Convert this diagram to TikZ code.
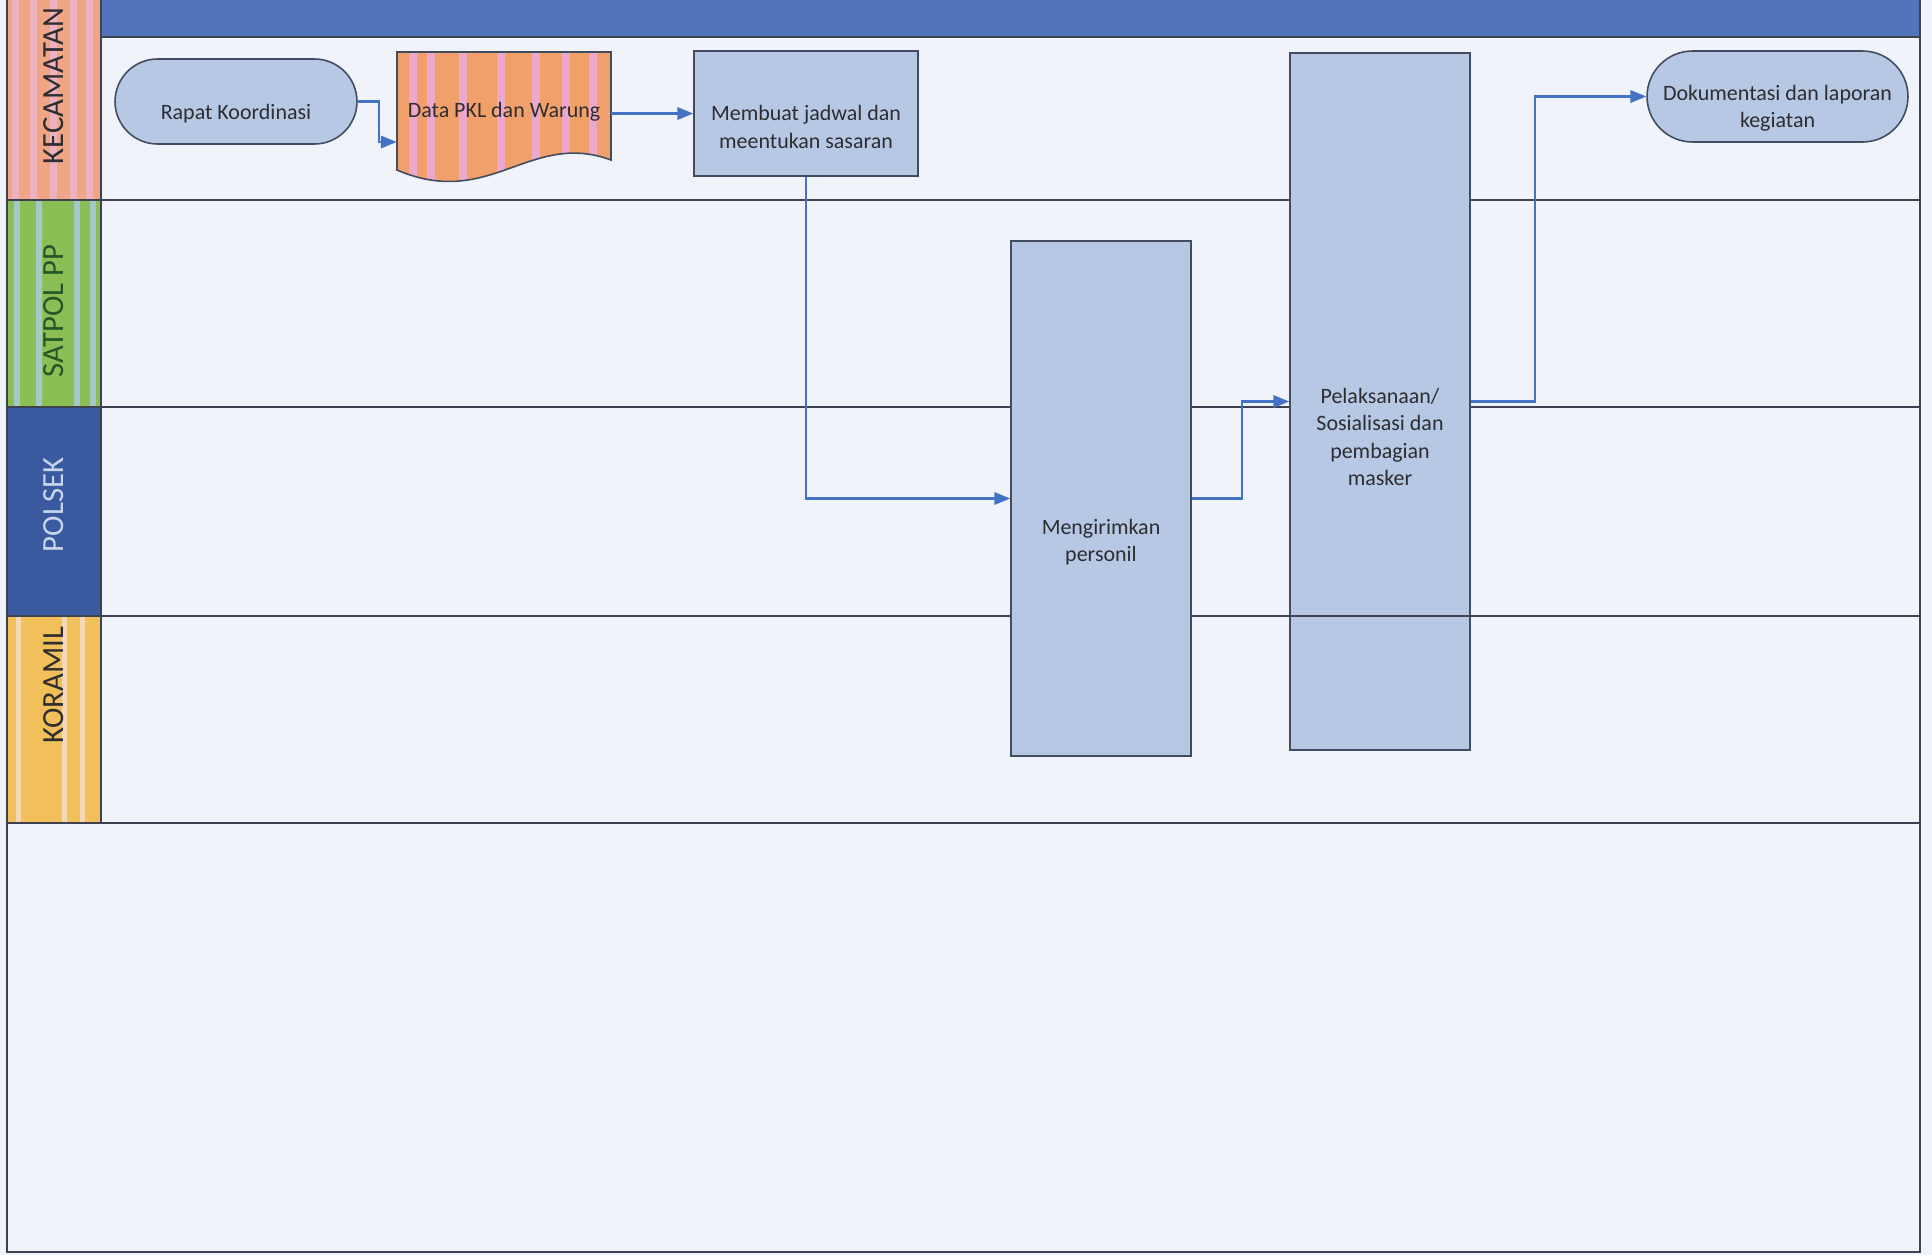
\documentclass[tikz,border=0pt]{standalone}
\usepackage{fontspec}
\setmainfont{Carlito}
\usepackage{tikz}
\usetikzlibrary{arrows.meta,calc,positioning}
\definecolor{pagebg}{RGB}{241,243,250}
\definecolor{hdrblue}{RGB}{82,116,186}
\definecolor{boxfill}{RGB}{183,200,228}
\definecolor{boxline}{RGB}{66,76,96}
\definecolor{flowblue}{RGB}{68,114,196}
\definecolor{laneline}{RGB}{62,66,80}
\definecolor{txtgray}{RGB}{45,45,50}
\definecolor{kecorange}{RGB}{240,165,132}
\definecolor{kecpink}{RGB}{236,178,192}
\definecolor{satgreen}{RGB}{140,190,86}
\definecolor{satblue}{RGB}{162,200,200}
\definecolor{polblue}{RGB}{58,90,160}
\definecolor{polltxt}{RGB}{200,212,236}
\definecolor{koryellow}{RGB}{242,192,90}
\definecolor{korlight}{RGB}{245,216,180}
\definecolor{docorange}{RGB}{242,160,106}
\definecolor{docpink}{RGB}{236,168,204}
\tikzset{fontscale/.style = {font=\fontsize{12.5}{15.5}\selectfont}}
\tikzstyle{procbox}=[rectangle, draw=boxline, line width=0.9pt, fill=boxfill, align=center, fontscale, text=txtgray]
\tikzstyle{termbox}=[procbox, rounded corners=0.85cm]
\tikzstyle{boxtext}=[rectangle, align=center, fontscale, text=txtgray]
\tikzstyle{lanelabel}=[rectangle, rotate=90, font=\fontsize{17.5}{19}\selectfont]
\tikzstyle{laneline}=[draw=laneline, line width=1.6pt]

\begin{document}
\begin{tikzpicture}[x=0.02cm, y=-0.02cm, flow/.style={draw=flowblue, line width=1.3pt, -{Triangle[length=9pt,width=7pt]}}]

% page
\fill[pagebg] (0,0) rectangle (1932,1255);
\useasboundingbox (0,0) rectangle (1932,1255);

% lane headers
\fill[hdrblue] (101,0) rectangle (1920,37);
\fill[kecorange] (7,0) rectangle (101,200);
\foreach \sx in {12,30,50,70,86} \fill[kecpink] (\sx,0) rectangle ++(7,200);
\fill[satgreen] (7,200) rectangle (101,407);
\foreach \sx in {14,36,74,90} \fill[satblue] (\sx,200) rectangle ++(6,207);
\fill[polblue] (7,407) rectangle (101,616);
\fill[koryellow] (7,616) rectangle (101,823);
\foreach \sx in {16,62,80} \fill[korlight] (\sx,616) rectangle ++(5,207);

\node[lanelabel, text=txtgray] (kec) at (54,86) {KECAMATAN};
\node[lanelabel, text=txtgray!80!green] (sat) at (54,311) {SATPOL PP};
\node[lanelabel, text=polltxt] (pol) at (54,505) {POLSEK};
\node[lanelabel, text=txtgray] (kor) at (54,685) {KORAMIL};

% lane lines
\foreach \ly in {200,407,616,823} \draw[laneline] (7,\ly) -- (1920,\ly);
\draw[laneline] (101,37) -- (1920,37);
\draw[laneline] (101,0) -- (101,823);
\draw[draw=laneline, line width=1.2pt] (7,0) -- (7,1252) -- (1920,1252) -- (1920,0);

% document shape
\draw[draw=boxline, line width=0.9pt, fill=docorange,
  path picture={\foreach \sx in {12,30,62,100,135,165,192}
    \fill[docpink] ($(path picture bounding box.north west)+(\sx,-5)$) rectangle ++(8,140);}]
  (397,52) -- (611,52) -- (611,160) .. controls (530,130) and (490,210) .. (397,170) -- cycle;

% steps
\node[termbox, minimum width=4.84cm, minimum height=1.7cm] (rapat) at (236,101.5) {};
\node[boxtext] (rapattxt) at (236,114) {Rapat Koordinasi};
\node[boxtext, minimum width=4.28cm, minimum height=2.48cm] (data) at (504,112) {Data PKL dan Warung};
\node[procbox, minimum width=4.48cm, minimum height=2.5cm] (membuat) at (806,113.5) {};
\node[boxtext] (membuattxt) at (806,127) {Membuat jadwal dan\\meentukan sasaran};
\node[termbox, minimum width=5.22cm, minimum height=1.82cm, rounded corners=0.91cm] (dok) at (1777.5,96.5) {};
\node[boxtext] (doktxt) at (1777.5,108) {Dokumentasi dan laporan\\kegiatan};
\node[procbox, minimum width=3.6cm, minimum height=10.3cm] (kirim) at (1101,498.5) {};
\node[boxtext] (kirimtxt) at (1101,542) {Mengirimkan\\personil};
\node[procbox, minimum width=3.6cm, minimum height=13.94cm] (pelak) at (1380,401.5) {};
\node[boxtext] (pelaktxt) at (1380,437) {Pelaksanaan/\\Sosialisasi dan\\pembagian\\masker};

% lane line over pelaksanaan
\coordinate (korline) at (0,616);
\draw[draw=laneline, line width=0.7pt] (pelak.west |- korline) -- (pelak.east |- korline);

% flow
\draw[flow] (rapat.east) -- ++(21,0) |- ($(data.west)+(0,30)$);
\draw[flow] (data.east |- membuat.west) -- (membuat.west);
\draw[flow] (membuat.south) |- (kirim.west);
\draw[flow] (kirim.east) -- ++(50,0) |- (pelak.west);
\draw[flow] (pelak.east) -- ++(64,0) |- (dok.west);
\end{tikzpicture}
\end{document}
